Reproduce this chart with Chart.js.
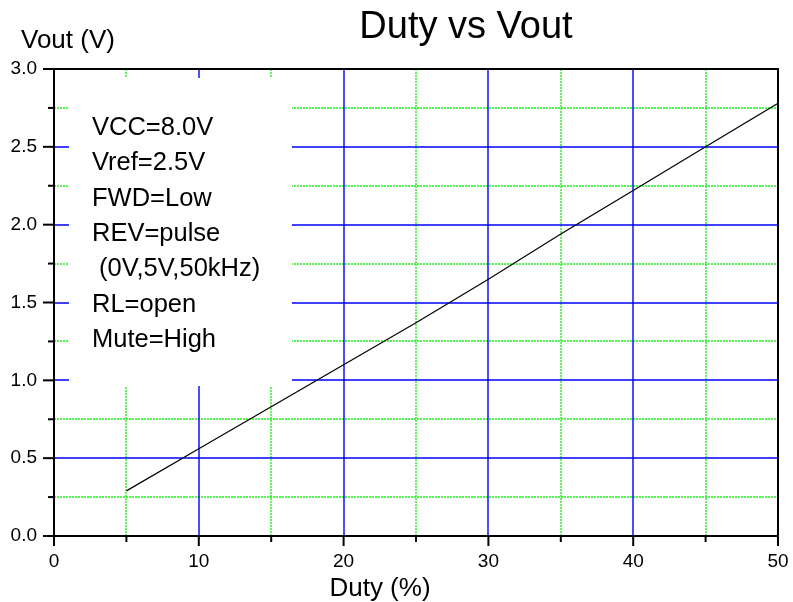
<!DOCTYPE html>
<html>
<head>
<meta charset="utf-8">
<script src="https://cdn.jsdelivr.net/npm/chart.js@4.4.1/dist/chart.umd.min.js"></script>
<style>
  html, body { margin: 0; padding: 0; background: #fff; }
  #wrap { width: 793px; height: 602px; }
</style>
</head>
<body>
<div id="wrap"><canvas id="dutyChart" width="793" height="602"></canvas></div>
<script>
// Duty vs Vout data
const duty = [5, 10, 15, 20, 25, 30, 35, 40, 45, 50];
const vout = [0.29, 0.56, 0.83, 1.10, 1.37, 1.65, 1.94, 2.22, 2.50, 2.78];

const xMajor = [0, 10, 20, 30, 40, 50];
const xMinor = [5, 15, 25, 35, 45];
const yMajor = [0, 0.5, 1.0, 1.5, 2.0, 2.5, 3.0];
const yMinor = [0.25, 0.75, 1.25, 1.75, 2.25, 2.75];

const notes = ['VCC=8.0V', 'Vref=2.5V', 'FWD=Low', 'REV=pulse', ' (0V,5V,50kHz)', 'RL=open', 'Mute=High'];

const FONT = '"Liberation Sans", Arial, sans-serif';

// grid, ticks, frame, note box and titles
const decor = {
    id: 'decor',
    beforeDatasetsDraw(chart) {
        const c = chart.ctx;
        const xs = chart.scales.x, ys = chart.scales.y;
        const a = chart.chartArea;
        const px = v => Math.round(xs.getPixelForValue(v));
        const py = v => Math.round(ys.getPixelForValue(v));
        c.save();
        c.lineWidth = 1.4;
        // minor grid
        c.strokeStyle = '#22ee22';
        c.setLineDash([2, 1]);
        xMinor.forEach(v => { c.beginPath(); c.moveTo(px(v), a.top); c.lineTo(px(v), a.bottom); c.stroke(); });
        yMinor.forEach(v => { c.beginPath(); c.moveTo(a.left, py(v)); c.lineTo(a.right, py(v)); c.stroke(); });
        // major grid
        c.setLineDash([]);
        c.strokeStyle = '#0000ff';
        xMajor.slice(1, -1).forEach(v => { c.beginPath(); c.moveTo(px(v), a.top); c.lineTo(px(v), a.bottom); c.stroke(); });
        yMajor.slice(1, -1).forEach(v => { c.beginPath(); c.moveTo(a.left, py(v)); c.lineTo(a.right, py(v)); c.stroke(); });
        // note box
        c.fillStyle = '#fff';
        c.fillRect(69, 78, 223, 308);
        c.fillStyle = '#000';
        c.font = '25.5px ' + FONT;
        c.textBaseline = 'alphabetic';
        notes.forEach((t, i) => c.fillText(t, 92, 135 + i * 35.3));
        // frame
        c.strokeStyle = '#000';
        c.lineWidth = 2;
        c.strokeRect(a.left, a.top, a.right - a.left, a.bottom - a.top);
        // tick marks
        xMajor.forEach(v => { const x = xs.getPixelForValue(v); c.beginPath(); c.moveTo(x, a.bottom); c.lineTo(x, a.bottom + 10); c.stroke(); });
        xMinor.forEach(v => { const x = xs.getPixelForValue(v); c.beginPath(); c.moveTo(x, a.bottom); c.lineTo(x, a.bottom + 6); c.stroke(); });
        yMajor.forEach(v => { const y = ys.getPixelForValue(v); c.beginPath(); c.moveTo(a.left - 11, y); c.lineTo(a.left, y); c.stroke(); });
        yMinor.forEach(v => { const y = ys.getPixelForValue(v); c.beginPath(); c.moveTo(a.left - 6, y); c.lineTo(a.left, y); c.stroke(); });
        // titles
        c.font = '38px ' + FONT;
        c.textAlign = 'center';
        c.fillText('Duty vs Vout', 466, 38);
        c.font = '26px ' + FONT;
        c.fillText('Duty (%)', 380, 596);
        c.textAlign = 'left';
        c.fillText('Vout (V)', 21, 48);
        c.restore();
    }
};

const ctx = document.getElementById('dutyChart').getContext('2d');
const dutyChart = new Chart(ctx, {
    type: 'line',
    data: {
        datasets: [{
            label: 'Vout',
            data: duty.map((d, i) => ({ x: d, y: vout[i] })),
            borderColor: '#000',
            borderWidth: 1.2,
            pointRadius: 0,
            fill: false,
            tension: 0
        }]
    },
    options: {
        responsive: false,
        animation: false,
        layout: { padding: { top: 69, right: 15, left: 0, bottom: 0 } },
        plugins: { legend: { display: false }, tooltip: { enabled: false } },
        scales: {
            x: {
                type: 'linear',
                min: 0,
                max: 50,
                afterFit: s => { s.height = 66; },
                grid: { drawOnChartArea: false, drawTicks: true, tickLength: 10, tickColor: 'rgba(0,0,0,0)' },
                border: { display: false },
                ticks: { stepSize: 10, color: '#000', padding: 4, maxRotation: 0, font: { family: FONT, size: 19 } }
            },
            y: {
                min: 0,
                max: 3,
                afterFit: s => { s.width = 54; },
                grid: { drawOnChartArea: false, drawTicks: true, tickLength: 11, tickColor: 'rgba(0,0,0,0)' },
                border: { display: false },
                ticks: { stepSize: 0.5, color: '#000', padding: 6, font: { family: FONT, size: 19 },
                         callback: v => v.toFixed(1) }
            }
        }
    },
    plugins: [decor]
});
</script>
</body>
</html>
